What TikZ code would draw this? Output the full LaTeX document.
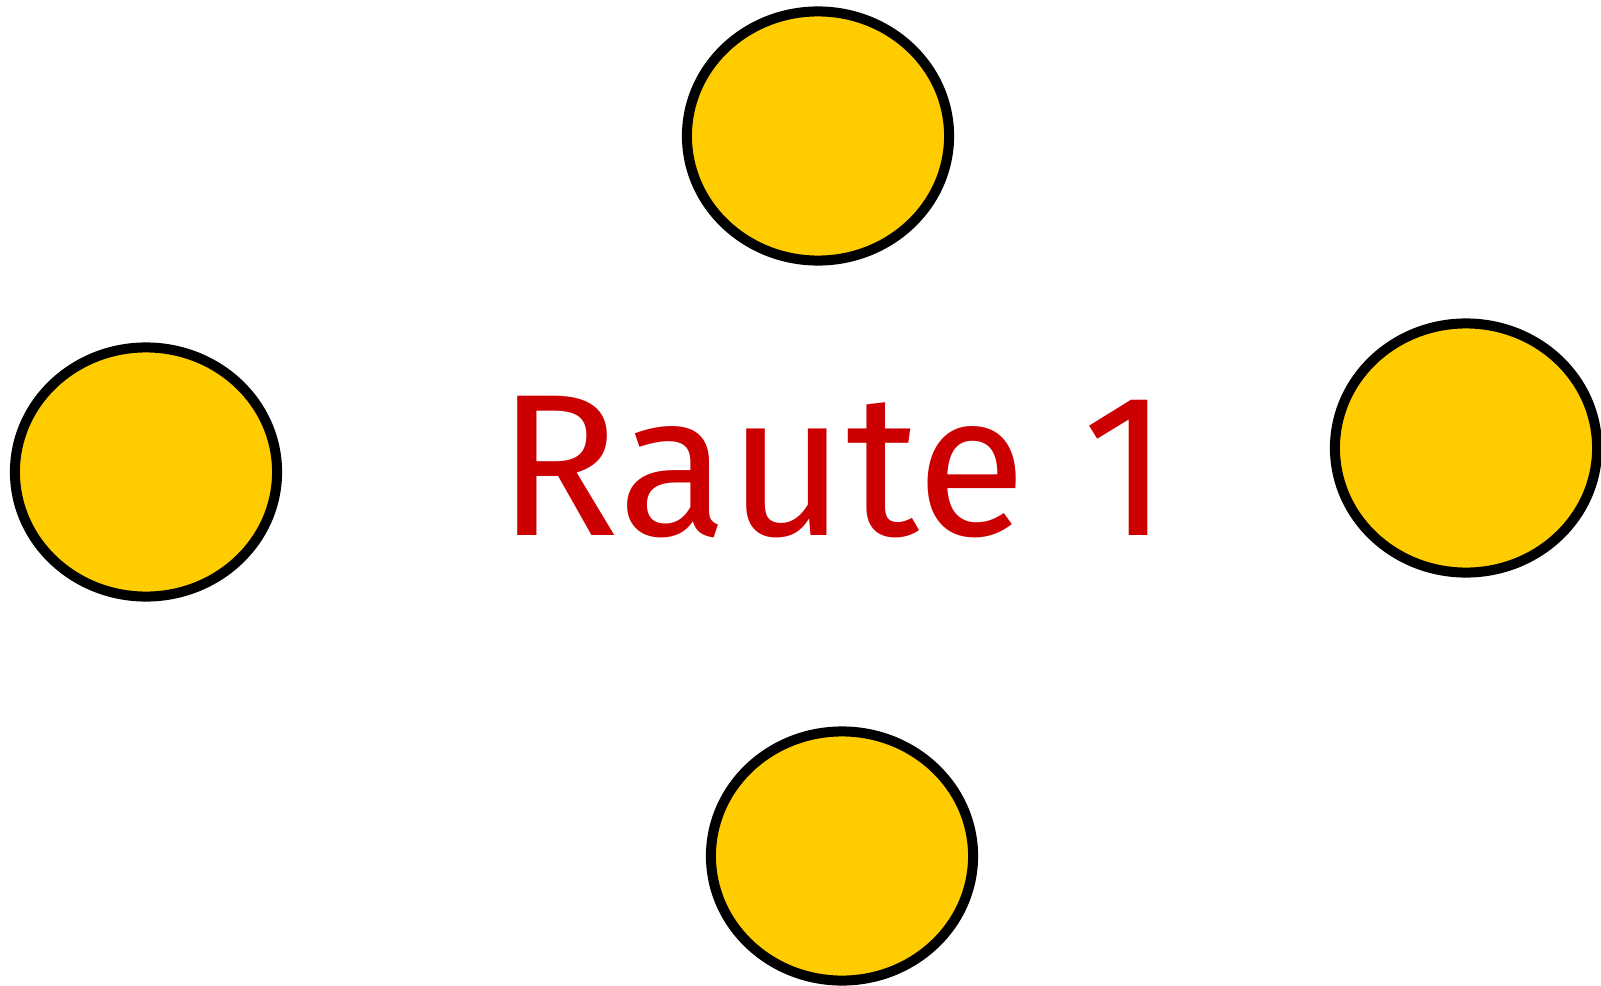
\documentclass[tikz,border=0pt]{standalone}
\usepackage{fontspec}
\setmainfont{Fira Sans}
\usetikzlibrary{shapes.geometric, positioning}
\definecolor{coinyellow}{HTML}{FFCC00}
\definecolor{labelred}{HTML}{CC0000}

\begin{document}
\begin{tikzpicture}[
    x=0.01cm, y=-0.01cm,
    coin/.style={ellipse, draw=black, line width=0.1cm, fill=coinyellow, minimum width=2.62cm, minimum height=2.49cm, inner sep=0pt},
    title/.style={text=labelred, font=\fontsize{57.5}{64}\selectfont, inner sep=0pt}
]
\useasboundingbox (0,0) rectangle (1601,985);

\node[coin] (coinN) at (818,136) {};
\node[coin] (coinW) at (146,472) {};
\node[coin] (coinE) at (1466,448) {};
\node[coin] (coinS) at (842,856) {};

\node[title] (label) at (834,467) {Raute\hspace{0.28em}1};

\end{tikzpicture}
\end{document}
